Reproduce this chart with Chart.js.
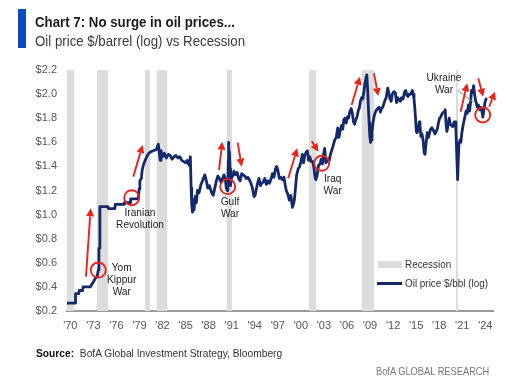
<!DOCTYPE html>
<html>
<head>
<meta charset="utf-8">
<script src="https://cdn.jsdelivr.net/npm/chart.js@4.4.1/dist/chart.umd.min.js"></script>
<style>
  html,body{margin:0;padding:0;background:#fff;}
  #wrap{position:relative;width:510px;height:391px;overflow:hidden;font-family:"Liberation Sans",Arial,sans-serif;}
  #c{position:absolute;left:0;top:0;}
  .bar{position:absolute;left:18px;top:9px;width:8px;height:39px;background:#0a4bc4;}
  .t{position:absolute;white-space:nowrap;transform-origin:left top;}
  .title{left:35px;top:13px;font-size:15px;font-weight:bold;color:#1b1b1b;transform:scaleX(0.885);}
  .sub{left:35px;top:32px;font-size:15px;color:#3a3a3a;transform:scaleX(0.884);}
  .src{left:36px;top:347px;font-size:10.5px;color:#333;transform:scaleX(0.975);}
  .src b{color:#111;}
  .brand{left:376px;top:365px;font-size:10.5px;color:#777;transform:scaleX(0.885);}
</style>
</head>
<body>
<div id="wrap">
  <canvas id="c" width="510" height="391" style="width:510px;height:391px"></canvas>
  <div class="bar"></div>
  <div class="t title">Chart 7: No surge in oil prices...</div>
  <div class="t sub">Oil price $/barrel (log) vs Recession</div>
  <div class="t src"><b>Source:</b>&nbsp; BofA Global Investment Strategy, Bloomberg</div>
  <div class="t brand">BofA GLOBAL RESEARCH</div>
</div>
<script>
// ---- data ----
const dates = [
1969.57,1970.62,1970.68,1971.10,1971.16,1971.60,1971.66,1972.60,1972.80,1973.00,1973.25,1973.50,1973.65,1973.72,1973.78,1973.85,1974.90,1974.95,1975.80,1975.85,1977.00,1977.05,1977.80,1977.85,1978.85,1978.95,1979.05,1979.25,1979.35,1979.55,1979.80,1980.10,1980.40,1980.80,1981.20,1981.45,1981.55,1981.70,1981.80,1982.00,1982.25,1982.50,1982.75,1983.00,1983.25,1983.50,1983.75,1984.00,1984.25,1984.50,1984.75,1985.00,1985.20,1985.45,1985.62,1985.72,1985.80,1985.90,1986.00,1986.10,1986.25,1986.40,1986.55,1986.75,1987.00,1987.20,1987.50,1987.70,1987.90,1988.10,1988.40,1988.60,1988.80,1989.00,1989.20,1989.40,1989.60,1989.80,1990.00,1990.15,1990.30,1990.42,1990.50,1990.56,1990.60,1990.65,1990.70,1990.78,1990.85,1990.95,1991.10,1991.30,1991.50,1991.70,1991.90,1992.10,1992.30,1992.50,1992.70,1992.90,1993.10,1993.30,1993.50,1993.70,1993.90,1994.05,1994.20,1994.40,1994.55,1994.75,1994.90,1995.10,1995.30,1995.50,1995.70,1995.90,1996.10,1996.30,1996.50,1996.70,1996.85,1997.00,1997.20,1997.40,1997.60,1997.80,1997.95,1998.10,1998.30,1998.50,1998.70,1998.90,1999.00,1999.15,1999.30,1999.45,1999.65,1999.85,2000.00,2000.20,2000.35,2000.50,2000.70,2000.85,2001.00,2001.15,2001.35,2001.55,2001.70,2001.85,2001.95,2002.10,2002.30,2002.50,2002.65,2002.80,2002.95,2003.10,2003.25,2003.40,2003.55,2003.70,2003.85,2004.00,2004.20,2004.40,2004.60,2004.80,2004.95,2005.10,2005.30,2005.45,2005.60,2005.75,2005.90,2006.05,2006.20,2006.35,2006.55,2006.70,2006.85,2007.00,2007.10,2007.30,2007.50,2007.60,2007.75,2007.90,2008.05,2008.20,2008.35,2008.50,2008.58,2008.68,2008.78,2008.88,2008.97,2009.07,2009.15,2009.25,2009.40,2009.55,2009.70,2009.85,2010.00,2010.20,2010.35,2010.50,2010.65,2010.80,2010.95,2011.10,2011.30,2011.45,2011.60,2011.75,2011.90,2012.10,2012.30,2012.45,2012.60,2012.80,2012.95,2013.10,2013.30,2013.50,2013.65,2013.80,2013.95,2014.10,2014.30,2014.50,2014.62,2014.72,2014.82,2014.92,2015.02,2015.12,2015.25,2015.40,2015.50,2015.62,2015.75,2015.90,2016.05,2016.15,2016.30,2016.45,2016.60,2016.75,2016.90,2017.05,2017.25,2017.45,2017.60,2017.75,2017.90,2018.05,2018.20,2018.40,2018.55,2018.70,2018.78,2018.90,2019.00,2019.15,2019.30,2019.45,2019.60,2019.75,2019.95,2020.08,2020.18,2020.28,2020.40,2020.48,2020.58,2020.70,2020.82,2020.95,2021.10,2021.30,2021.50,2021.65,2021.80,2021.95,2022.08,2022.20,2022.35,2022.48,2022.60,2022.72,2022.85,2022.97,2023.10,2023.25,2023.40,2023.55,2023.68,2023.80,2023.95,2024.10
];
const logOilPrice = [
0.265,0.265,0.345,0.345,0.37,0.37,0.40,0.40,0.42,0.44,0.47,0.49,0.54,0.72,0.72,1.066,1.066,1.05,1.05,1.085,1.085,1.10,1.10,1.13,1.13,1.21,1.28,1.30,1.37,1.42,1.46,1.50,1.52,1.53,1.54,1.585,1.53,1.45,1.53,1.48,1.51,1.47,1.50,1.49,1.46,1.48,1.49,1.47,1.48,1.45,1.44,1.43,1.45,1.41,1.48,1.22,1.08,1.02,1.12,1.04,1.15,1.10,1.20,1.18,1.25,1.28,1.33,1.28,1.22,1.24,1.18,1.16,1.22,1.28,1.32,1.30,1.27,1.30,1.33,1.30,1.22,1.20,1.26,1.45,1.60,1.46,1.52,1.38,1.24,1.30,1.32,1.36,1.33,1.35,1.30,1.28,1.34,1.33,1.32,1.30,1.31,1.29,1.26,1.22,1.15,1.16,1.21,1.27,1.30,1.24,1.26,1.27,1.30,1.25,1.28,1.26,1.29,1.34,1.31,1.38,1.40,1.37,1.30,1.31,1.29,1.31,1.25,1.20,1.17,1.12,1.16,1.06,1.08,1.12,1.22,1.33,1.38,1.40,1.44,1.50,1.43,1.49,1.52,1.53,1.45,1.48,1.44,1.44,1.39,1.31,1.29,1.32,1.41,1.42,1.46,1.42,1.50,1.55,1.43,1.44,1.46,1.45,1.50,1.53,1.57,1.62,1.64,1.72,1.64,1.69,1.74,1.71,1.79,1.80,1.76,1.81,1.80,1.85,1.88,1.84,1.77,1.75,1.78,1.81,1.87,1.88,1.94,1.97,1.96,2.02,2.09,2.145,2.16,2.05,1.90,1.76,1.65,1.60,1.62,1.68,1.77,1.82,1.85,1.87,1.88,1.89,1.85,1.88,1.89,1.92,1.95,1.97,2.05,2.01,1.96,1.94,2.00,2.02,2.01,1.93,1.97,1.95,1.94,1.97,1.96,2.02,2.03,1.99,1.98,2.00,2.00,2.03,2.00,1.96,1.89,1.80,1.69,1.68,1.70,1.77,1.74,1.65,1.67,1.62,1.51,1.50,1.60,1.68,1.64,1.68,1.71,1.72,1.70,1.67,1.69,1.71,1.76,1.80,1.81,1.84,1.85,1.85,1.87,1.74,1.69,1.74,1.80,1.75,1.74,1.73,1.77,1.77,1.70,1.50,1.29,1.45,1.60,1.62,1.60,1.68,1.74,1.80,1.86,1.84,1.91,1.86,1.93,2.03,2.01,2.07,2.00,1.95,1.92,1.89,1.91,1.87,1.89,1.86,1.81,1.86,1.93,1.96
];
const recessionStart = [1969.57,1973.47,1979.72,1981.24,1990.35,2001.06,2007.95,2020.18];
const recessionEnd   = [1970.48,1974.90,1980.37,1982.62,1991.04,2001.97,2009.51,2020.44];
const xTickYears = [1970,1973,1976,1979,1982,1985,1988,1991,1994,1997,2000,2003,2006,2009,2012,2015,2018,2021,2024];
const yTickValues = [0.2,0.4,0.6,0.8,1.0,1.2,1.4,1.6,1.8,2.0,2.2];

// annotations (data coordinates)
const circleYears = [1973.64,1977.99,1990.48,2002.71,2023.66];
const circleValues = [0.540,1.140,1.232,1.426,1.827];
const arrows = [
  [1972.04,0.485,1972.65,1.052],
  [1978.20,1.315,1979.42,1.578],
  [1989.35,1.370,1989.78,1.605],
  [1991.78,1.597,1992.30,1.398],
  [1998.36,1.301,1999.53,1.550],
  [2001.41,1.611,2002.27,1.522],
  [2006.61,1.910,2007.69,2.144],
  [2009.51,2.173,2010.07,1.984],
  [2020.79,1.854,2021.65,2.090],
  [2023.08,2.131,2023.73,1.978],
  [2024.51,1.895,2025.26,2.020]
];
const eventLabels = [
  {lines:['Yom','Kippur','War'], x:1976.69, y:0.557},
  {lines:['Iranian','Revolution'], x:1979.07, y:1.013},
  {lines:['Gulf','War'], x:1990.78, y:1.105},
  {lines:['Iraq','War'], x:2004.14, y:1.295},
  {lines:['Ukraine','War'], x:2018.62, y:2.134}
];
const leader = [2020.44,2.028,2022.46,1.934];

const FONT = '"Liberation Sans",Arial,sans-serif';
const RED = '#e8231c';
const NAVY = '#13296b';

const recessionPlugin = {
  id:'recession',
  beforeDatasetsDraw(chart){
    const {ctx, chartArea:a, scales:{x}} = chart;
    ctx.save();
    ctx.fillStyle = '#dcdcdc';
    for (let i=0;i<recessionStart.length;i++){
      let x1 = Math.max(a.left, x.getPixelForValue(recessionStart[i]));
      let x2 = Math.min(a.right, x.getPixelForValue(recessionEnd[i]));
      ctx.fillRect(x1, a.top, x2-x1, a.bottom-a.top);
    }
    ctx.restore();
  }
};

function arrow(ctx,x0,y0,x1,y1){
  const ang = Math.atan2(y1-y0,x1-x0);
  const hl = 8, hw = 4;
  const bx = x1 - hl*Math.cos(ang), by = y1 - hl*Math.sin(ang);
  ctx.beginPath(); ctx.moveTo(x0,y0); ctx.lineTo(bx,by); ctx.stroke();
  ctx.beginPath();
  ctx.moveTo(x1,y1);
  ctx.lineTo(bx + hw*Math.sin(ang), by - hw*Math.cos(ang));
  ctx.lineTo(bx - hw*Math.sin(ang), by + hw*Math.cos(ang));
  ctx.closePath(); ctx.fill();
}

function narrowText(ctx, text, x, y, sx){
  ctx.save(); ctx.translate(x,y); ctx.scale(sx,1); ctx.fillText(text,0,0); ctx.restore();
}

const annotationPlugin = {
  id:'annot',
  afterDatasetsDraw(chart){
    const {ctx, chartArea:a, scales:{x,y}} = chart;
    ctx.save();
    // leader line
    ctx.strokeStyle = '#8a8a8a'; ctx.lineWidth = 1;
    ctx.beginPath();
    ctx.moveTo(x.getPixelForValue(leader[0]), y.getPixelForValue(leader[1]));
    ctx.lineTo(x.getPixelForValue(leader[2]), y.getPixelForValue(leader[3]));
    ctx.stroke();
    // circles
    ctx.strokeStyle = RED; ctx.lineWidth = 1.9;
    for (let i=0;i<circleYears.length;i++){
      ctx.beginPath();
      ctx.arc(x.getPixelForValue(circleYears[i]), y.getPixelForValue(circleValues[i]), 7.5, 0, Math.PI*2);
      ctx.stroke();
    }
    // arrows
    ctx.fillStyle = RED; ctx.lineWidth = 1.9;
    arrows.forEach(r=>arrow(ctx, x.getPixelForValue(r[0]), y.getPixelForValue(r[1]), x.getPixelForValue(r[2]), y.getPixelForValue(r[3])));
    // labels
    ctx.fillStyle = '#222'; ctx.font = '11px '+FONT; ctx.textAlign='center'; ctx.textBaseline='middle';
    eventLabels.forEach(l=>{
      const px = x.getPixelForValue(l.x), py = y.getPixelForValue(l.y);
      l.lines.forEach((t,i)=>narrowText(ctx, t, px, py + i*12, 0.92));
    });
    // legend
    ctx.textAlign='left';
    ctx.fillStyle = '#dcdcdc';
    ctx.fillRect(378, 261, 24, 7);
    ctx.strokeStyle = NAVY; ctx.lineWidth = 3;
    ctx.beginPath(); ctx.moveTo(377, 283.5); ctx.lineTo(402, 283.5); ctx.stroke();
    ctx.fillStyle = '#333'; ctx.font = '11px '+FONT;
    narrowText(ctx, 'Recession', 405, 265, 0.9);
    narrowText(ctx, 'Oil price $/bbl (log)', 405, 284, 0.9);
    ctx.restore();
  }
};

new Chart(document.getElementById('c').getContext('2d'), {
  type:'line',
  data:{ datasets:[{
    label:'Oil price $/bbl (log)',
    data: dates.map((d,i)=>({x:d, y:logOilPrice[i]})),
    borderColor: NAVY, borderWidth: 2.8, pointRadius: 0, tension: 0,
    borderJoinStyle:'round', borderCapStyle:'round', fill:false
  }]},
  options:{
    responsive:false, animation:false, devicePixelRatio:1,
    layout:{padding:{left:0,right:17,top:70,bottom:50}},
    plugins:{legend:{display:false}, tooltip:{enabled:false}},
    scales:{
      x:{
        type:'linear', min:1969.57, max:2025.0,
        grid:{display:false, drawTicks:false},
        border:{display:true, color:'#9a9a9a', width:2},
        afterBuildTicks:s=>{ s.ticks = xTickYears.map(v=>({value:v})); },
        afterFit:s=>{ s.height = 30; },
        ticks:{ autoSkip:false, maxRotation:0, padding:8, color:'#555',
          font:{family:FONT, size:11},
          callback:v=>"'"+String(v).slice(2) }
      },
      y:{
        min:0.2, max:2.2,
        grid:{display:false, drawTicks:false},
        border:{display:false},
        afterBuildTicks:s=>{ s.ticks = yTickValues.map(v=>({value:v})); },
        afterFit:s=>{ s.width = 67; },
        ticks:{ padding:10, color:'#555', font:{family:FONT, size:11},
          callback:v=>'$'+Number(v).toFixed(1) }
      }
    }
  },
  plugins:[recessionPlugin, annotationPlugin]
});
</script>
</body>
</html>
